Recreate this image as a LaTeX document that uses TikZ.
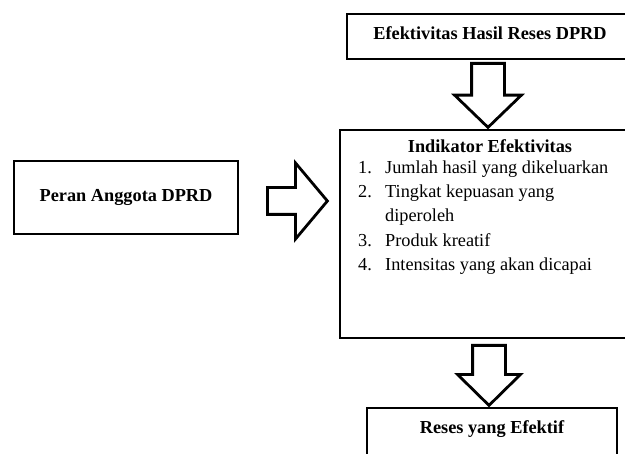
\documentclass[tikz,border=0pt]{standalone}
\usepackage{fontspec}
\setmainfont{Liberation Serif}
\usetikzlibrary{shapes.arrows}
\tikzset{
	box/.style={draw=black, line width=2.8pt, inner sep=0pt, font=\fontsize{18.3}{24.2}\selectfont\bfseries},
	listText/.style={inner sep=0pt, anchor=base west, font=\fontsize{18.3}{24.2}\selectfont},
	blockArrow/.style={single arrow, draw=black, line width=2.8pt, fill=white, anchor=tail}
}

\begin{document}
\begin{tikzpicture}[x=1pt,y=-1pt]
\useasboundingbox (0,0) rectangle (625,454);
\clip (0,0) rectangle (625,454);
% boxes
\node[box, minimum width=224pt, minimum height=73pt] (peran) at (126,197.5) {Peran Anggota DPRD};
\node[box, minimum width=286pt, minimum height=45pt, text depth=7pt] (hasil) at (490,36.5) {Efektivitas Hasil Reses DPRD};
\node[box, minimum width=300pt, minimum height=208pt] (indikator) at (490,234) {};
\node[box, minimum width=250pt, minimum height=52pt, text depth=14pt] (reses) at (492,434) {Reses yang Efektif};
% isi indikator
\node[listText, anchor=base, font=\fontsize{18.3}{24.2}\selectfont\bfseries] (judul) at (490,152.5) {Indikator Efektivitas};
\foreach \i/\num/\txt/\y in {1/1./Jumlah hasil yang dikeluarkan/173.5, 2/2./Tingkat kepuasan yang/197.7, 3//diperoleh/221.9, 4/3./Produk kreatif/246.1, 5/4./Intensitas yang akan dicapai/270.3} {
	\node[listText] (num\i) at (358,\y) {\num};
	\node[listText] (item\i) at (385,\y) {\txt};
}
% panah
\node[blockArrow, inner sep=12pt, minimum height=60pt, minimum width=73pt, single arrow head extend=24.5pt, single arrow tip angle=100] (panahKanan) at (266,201) {};
\node[blockArrow, inner sep=15pt, shape border rotate=270, minimum height=64pt, minimum width=64pt, single arrow head extend=17pt, single arrow tip angle=92] (panahAtas) at (488,62) {};
\node[blockArrow, inner sep=15pt, shape border rotate=270, minimum height=60pt, minimum width=60pt, single arrow head extend=15pt, single arrow tip angle=91] (panahBawah) at (489,344) {};
\end{tikzpicture}
\end{document}
